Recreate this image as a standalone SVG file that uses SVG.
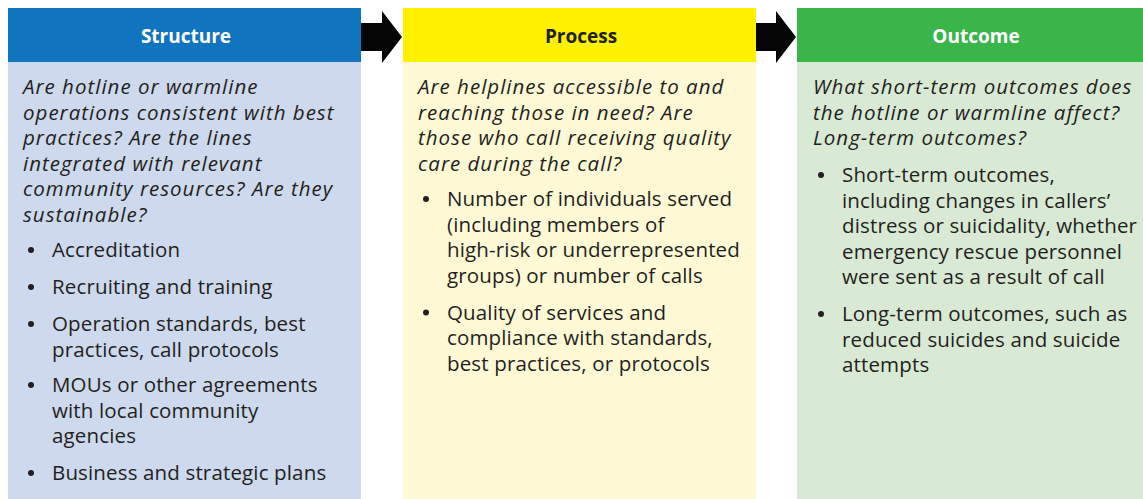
<svg xmlns="http://www.w3.org/2000/svg" width="1143" height="499" viewBox="0 0 1143 499">
  <style>
    .hdr { font-family: "Open Sans", "Liberation Sans", sans-serif; font-size: 19px; font-weight: bold; text-anchor: middle; }
    .q { font-family: "Open Sans", "Liberation Sans", sans-serif; font-size: 20.5px; font-style: italic; letter-spacing: 1px; fill: #231f20; }
    .b { font-family: "Open Sans", "Liberation Sans", sans-serif; font-size: 20.5px; letter-spacing: 0.15px; fill: #231f20; }
    .dot { fill: #231f20; }
  </style>
  <rect width="1143" height="499" fill="#ffffff"/>

  <!-- Structure column -->
  <g id="structure">
    <rect x="8" y="8" width="353" height="54" fill="#1174be"/>
    <rect x="8" y="62" width="353" height="437" fill="#cdd9ec"/>
    <text class="hdr" x="186" y="43" fill="#ffffff">Structure</text>
    <text class="q" x="23" y="94">Are hotline or warmline</text>
    <text class="q" x="23" y="119.5">operations consistent with best</text>
    <text class="q" x="23" y="145">practices? Are the lines</text>
    <text class="q" x="23" y="170.5">integrated with relevant</text>
    <text class="q" x="23" y="196">community resources? Are they</text>
    <text class="q" x="23" y="221.5">sustainable?</text>
    <circle class="dot" cx="31" cy="250" r="3"/><text class="b" x="52" y="257">Accreditation</text>
    <circle class="dot" cx="31" cy="287" r="3"/><text class="b" x="52" y="294">Recruiting and training</text>
    <circle class="dot" cx="31" cy="324" r="3"/><text class="b" x="52" y="331">Operation standards, best</text>
    <text class="b" x="52" y="356.5">practices, call protocols</text>
    <circle class="dot" cx="31" cy="385" r="3"/><text class="b" x="52" y="392">MOUs or other agreements</text>
    <text class="b" x="52" y="417.5">with local community</text>
    <text class="b" x="52" y="443">agencies</text>
    <circle class="dot" cx="31" cy="473" r="3"/><text class="b" x="52" y="480">Business and strategic plans</text>
  </g>

  <!-- Process column -->
  <g id="process">
    <rect x="403" y="8" width="353" height="54" fill="#fff100"/>
    <rect x="403" y="62" width="353" height="437" fill="#fff9d6"/>
    <text class="hdr" x="581" y="43" fill="#231f20">Process</text>
    <text class="q" x="418" y="94">Are helplines accessible to and</text>
    <text class="q" x="418" y="119.5">reaching those in need? Are</text>
    <text class="q" x="418" y="145">those who call receiving quality</text>
    <text class="q" x="418" y="170.5">care during the call?</text>
    <circle class="dot" cx="426" cy="199" r="3"/><text class="b" x="447" y="206">Number of individuals served</text>
    <text class="b" x="447" y="231.5">(including members of</text>
    <text class="b" x="447" y="257">high-risk or underrepresented</text>
    <text class="b" x="447" y="282.5">groups) or number of calls</text>
    <circle class="dot" cx="426" cy="312.5" r="3"/><text class="b" x="447" y="319.5">Quality of services and</text>
    <text class="b" x="447" y="345">compliance with standards,</text>
    <text class="b" x="447" y="370.5">best practices, or protocols</text>
  </g>

  <!-- Outcome column -->
  <g id="outcome">
    <rect x="797" y="8" width="346" height="54" fill="#3ab54a"/>
    <rect x="797" y="62" width="346" height="437" fill="#d8ead4"/>
    <text class="hdr" x="976" y="43" fill="#ffffff">Outcome</text>
    <text class="q" x="813" y="94">What short-term outcomes does</text>
    <text class="q" x="813" y="119.5">the hotline or warmline affect?</text>
    <text class="q" x="813" y="145">Long-term outcomes?</text>
    <circle class="dot" cx="821" cy="175" r="3"/><text class="b" x="842" y="182">Short-term outcomes,</text>
    <text class="b" x="842" y="207.5">including changes in callers’</text>
    <text class="b" x="842" y="233">distress or suicidality, whether</text>
    <text class="b" x="842" y="258.5">emergency rescue personnel</text>
    <text class="b" x="842" y="284">were sent as a result of call</text>
    <circle class="dot" cx="821" cy="314" r="3"/><text class="b" x="842" y="321">Long-term outcomes, such as</text>
    <text class="b" x="842" y="346.5">reduced suicides and suicide</text>
    <text class="b" x="842" y="372">attempts</text>
  </g>

  <!-- Block arrows between columns -->
  <g id="connectors" fill="#050505">
    <polygon points="361,23 382,23 382,11 402,37 382,63 382,51 361,51"/>
    <polygon points="756,23 776,23 776,11 796,37 776,63 776,51 756,51"/>
  </g>
</svg>
